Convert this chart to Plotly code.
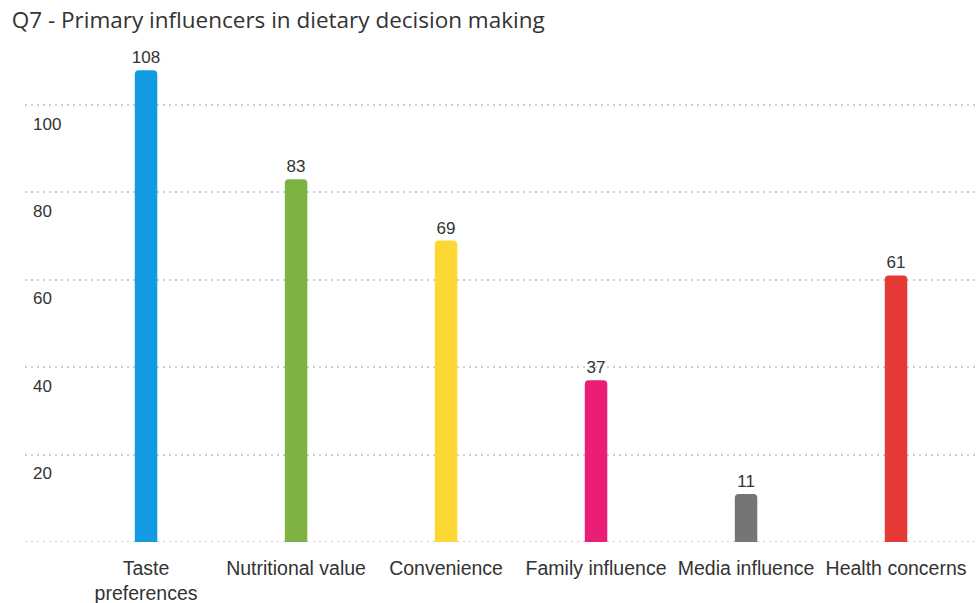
import plotly.graph_objects as go

# Survey responses for Q7
categories = ["Taste<br>preferences", "Nutritional value", "Convenience",
              "Family influence", "Media influence", "Health concerns"]
counts = [108, 83, 69, 37, 11, 61]
bar_colors = ["#139be2", "#7cb342", "#fdd835", "#e91e74", "#757575", "#e53935"]
y_ticks = [20, 40, 60, 80, 100]

FONT = "Liberation Sans, Arial, sans-serif"
GRID = "#cfcfcf"

fig = go.Figure()
fig.add_trace(go.Bar(
    x=list(range(len(categories))),
    y=counts,
    marker=dict(color=bar_colors, cornerradius=4, line=dict(width=0)),
    width=0.15,
    text=[str(v) for v in counts],
    textposition="outside",
    constraintext="none",
    textfont=dict(family=FONT, size=17, color="#333333"),
    cliponaxis=False,
    hoverinfo="skip",
))

# baseline drawn in the same dotted style as the grid
fig.add_shape(type="line", xref="paper", x0=0, x1=1, yref="y", y0=0, y1=0,
              line=dict(color=GRID, width=2, dash="2px,4px"), layer="below")

# y tick labels sit just below their grid lines
for t in y_ticks:
    fig.add_annotation(x=0, xref="paper", y=t, yref="y", text=str(t),
                       showarrow=False, xanchor="left", yanchor="middle",
                       xshift=6, yshift=-19,
                       font=dict(family=FONT, size=17, color="#333333"))

fig.update_layout(
    width=976, height=603,
    margin=dict(l=25, r=0, t=40, b=61, autoexpand=False),
    paper_bgcolor="white", plot_bgcolor="white",
    showlegend=False,
    title=dict(text="Q7 - Primary influencers in dietary decision making",
               x=0.012, xanchor="left", y=0.966, yanchor="middle",
               font=dict(family="Open Sans, Noto Sans, sans-serif", size=22.5, color="#333333")),
    xaxis=dict(
        range=[-0.807, 5.533],
        tickvals=list(range(len(categories))),
        ticktext=categories,
        showgrid=False, zeroline=False, showline=False,
        ticks="", ticklabelstandoff=12, automargin=False,
        tickfont=dict(family=FONT, size=19.5, color="#333333"),
    ),
    yaxis=dict(
        range=[0, 114.9],
        tickvals=y_ticks,
        showticklabels=False, automargin=False,
        showgrid=True, gridcolor=GRID, griddash="2px,4px", gridwidth=2,
        zeroline=False, showline=False, ticks="",
    ),
)

fig.write_html("out.html")
